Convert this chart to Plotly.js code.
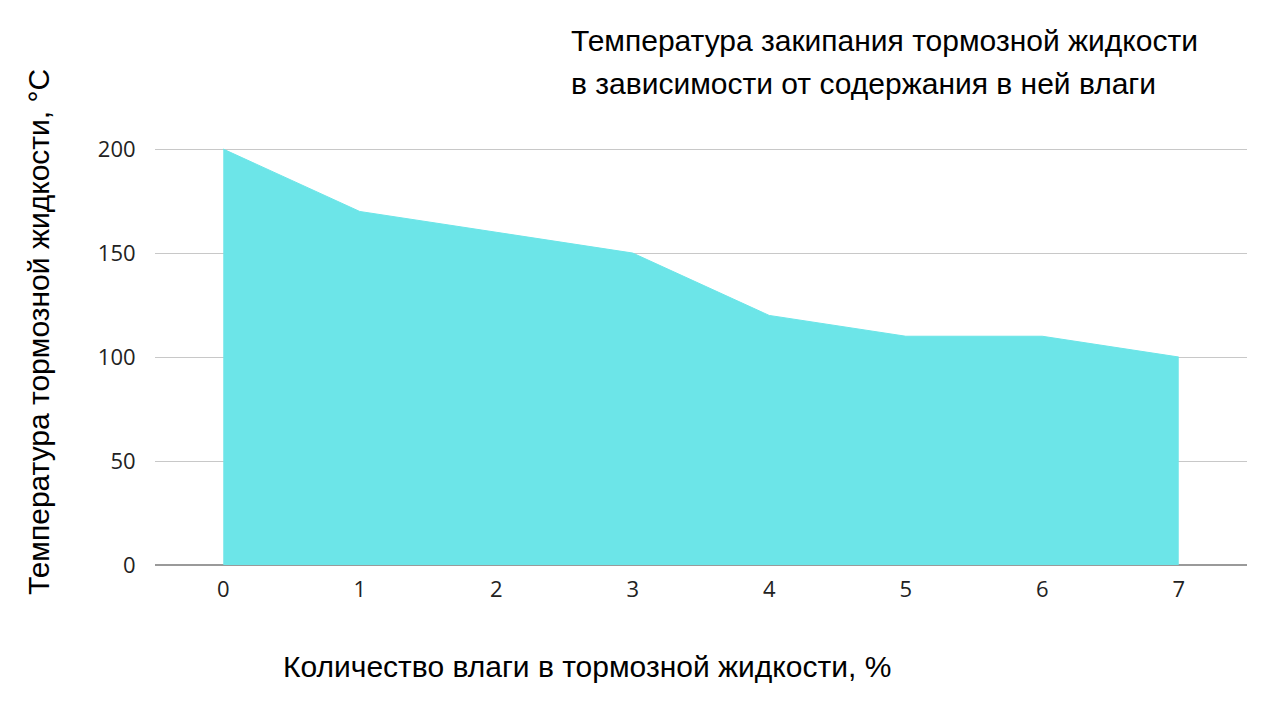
<!DOCTYPE html>
<html>
<head>
<meta charset="utf-8">
<script src="https://cdn.plot.ly/plotly-3.0.1.min.js"></script>
<style>
  html, body { margin: 0; padding: 0; background: #fff; }
  #chart { width: 1280px; height: 720px; }
</style>
</head>
<body>
<div id="chart"></div>
<script>
// moisture content, % and boiling point, °C
const moisture = [0, 1, 2, 3, 4, 5, 6, 7];
const boilingTemp = [200, 170, 160, 150, 120, 110, 110, 100];
const yTicks = [0, 50, 100, 150, 200];

const titleLines = ['Температура закипания тормозной жидкости', 'в зависимости от содержания в ней влаги'];
const xTitle = 'Количество влаги в тормозной жидкости, %';
const yTitle = 'Температура тормозной жидкости, °С';

const areaTrace = {
    type: 'scatter',
    mode: 'lines',
    x: moisture,
    y: boilingTemp,
    fill: 'tozeroy',
    fillcolor: '#6ce5e8',
    line: { color: '#6ce5e8', width: 1 },
    hoverinfo: 'none'
};

const tickFont = { family: 'Open Sans, sans-serif', size: 22, color: '#222' };
const textFont = { family: 'Liberation Sans, Arial, sans-serif', size: 30, color: '#000' };

// plot box in pixels, used to place the texts
const plotL = 155, plotR = 1247, plotT = 147, plotB = 565;
const px2x = p => (p - plotL) / (plotR - plotL);
const px2y = p => (plotB - p) / (plotB - plotT);

const layout = {
    width: 1280,
    height: 720,
    margin: { l: plotL, r: 1280 - plotR, t: plotT, b: 720 - plotB },
    paper_bgcolor: '#fff',
    plot_bgcolor: '#fff',
    showlegend: false,
    font: textFont,
    xaxis: {
        range: [-0.5, 7.5],
        tickvals: moisture,
        showgrid: false,
        zeroline: false,
        showline: false,
        ticks: 'outside',
        ticklen: 5,
        tickcolor: 'rgba(0,0,0,0)',
        tickfont: tickFont
    },
    yaxis: {
        range: [0, 201],
        tickvals: yTicks,
        showgrid: true,
        gridcolor: '#c8c8c8',
        gridwidth: 1,
        zeroline: true,
        zerolinecolor: '#9a9a9a',
        zerolinewidth: 1.5,
        showline: false,
        ticks: 'outside',
        ticklen: 14,
        tickcolor: 'rgba(0,0,0,0)',
        tickfont: tickFont
    },
    annotations: [
        {
            text: titleLines[0],
            xref: 'paper', yref: 'paper',
            x: px2x(569), y: px2y(40),
            xanchor: 'left', yanchor: 'middle',
            showarrow: false, font: textFont
        },
        {
            text: titleLines[1],
            xref: 'paper', yref: 'paper',
            x: px2x(569), y: px2y(84),
            xanchor: 'left', yanchor: 'middle',
            showarrow: false, font: textFont
        },
        {
            text: xTitle,
            xref: 'paper', yref: 'paper',
            x: px2x(587), y: px2y(666),
            xanchor: 'center', yanchor: 'middle',
            showarrow: false, font: textFont
        },
        {
            text: yTitle,
            textangle: -90,
            xref: 'paper', yref: 'paper',
            x: px2x(38), y: px2y(332),
            xanchor: 'center', yanchor: 'middle',
            showarrow: false, font: textFont
        }
    ]
};

Plotly.newPlot('chart', [areaTrace], layout, { displayModeBar: false, staticPlot: true });
</script>
</body>
</html>
